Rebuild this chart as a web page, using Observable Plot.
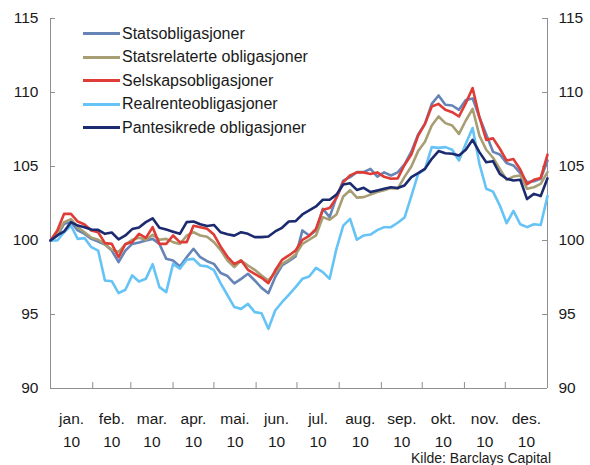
<!DOCTYPE html>
<html><head><meta charset="utf-8">
<script src="https://cdn.jsdelivr.net/npm/d3@7"></script>
<script src="https://cdn.jsdelivr.net/npm/@observablehq/plot@0.6"></script>
<style>
body{margin:0;background:#fff;}
#wrap{position:relative;width:590px;height:465px;font-family:"Liberation Sans",Arial,sans-serif;color:#1a1a1a;}
#legend{position:absolute;left:83px;top:22px;font-size:16px;}
.row{display:flex;align-items:center;height:23.5px;white-space:nowrap;}
.sw{width:37px;height:3px;margin-right:2px;}
#source{position:absolute;right:39px;top:450px;font-size:14px;line-height:16px;}
</style></head><body><div id="wrap"></div>
<script>
const seriesNames = ["Statsobligasjoner","Statsrelaterte obligasjoner","Selskapsobligasjoner","Realrenteobligasjoner","Pantesikrede obligasjoner"];
const seriesColors = ["#6685B6","#A89E74","#E03C36","#66C3F5","#1C2B6F"];
const monthLabels = ["jan.","feb.","mar.","apr.","mai.","jun.","jul.","aug.","sep.","okt.","nov.","des."];
const yearLabel = "10";
const yTicks = [90,95,100,105,110,115];
const sourceText = "Kilde: Barclays Capital";

const stats = [100,100.34,101.13,101.24,100.68,100.45,100.11,99.93,99.73,99.32,
 98.54,99.32,99.77,99.86,100.0,100.11,99.77,98.76,98.65,98.24,
 98.87,99.44,98.87,98.6,98.42,97.8,97.6,97.1,97.41,97.75,
 97.3,96.8,96.44,97.52,98.31,98.6,98.92,100.68,100.34,100.68,
 102.14,101.58,102.93,104.05,104.28,104.62,104.62,104.84,104.32,104.6,
 104.39,104.6,105.14,106.0,107.16,107.88,109.23,109.8,109.17,109.12,
 108.83,109.5,109.6,108.33,107.16,105.99,105.81,105.23,105.07,104.55,
 103.94,104.01,104.17,105.41];
const statsrel = [100,100.45,101.24,101.44,100.9,100.56,100.18,100.05,99.77,99.37,
 99.23,99.73,100.05,100.18,100.05,100.38,100.05,100.11,99.89,99.77,
 100.32,100.56,100.34,100.25,99.89,99.35,98.65,98.2,98.65,98.31,
 98.02,97.64,97.3,97.82,98.42,98.69,99.05,99.77,100.05,100.34,
 101.58,101.4,101.76,102.97,103.4,102.9,102.93,103.1,103.27,103.4,
 103.54,103.5,104.3,105.0,106.04,106.67,107.77,108.38,107.93,107.77,
 107.2,108.11,108.9,107.09,106.13,105.59,104.84,104.1,104.32,104.39,
 103.49,103.6,103.83,104.62];
const selskap = [100,100.68,101.8,101.8,101.28,101.08,100.68,100.56,99.82,99.77,
 98.87,99.77,99.89,100.45,100.18,100.9,99.77,99.77,100.34,99.89,
 99.89,101.0,100.9,100.8,100.4,99.58,98.9,98.4,98.65,98.02,
 97.75,97.48,97.12,97.97,98.69,98.99,99.32,100.05,100.32,100.79,
 102.07,102.2,102.88,103.94,104.4,104.6,104.6,104.5,104.6,104.3,
 104.17,104.2,105.1,105.8,107.09,107.88,109.05,109.23,108.83,108.67,
 108.38,109.28,110.3,108.33,106.8,106.9,106.2,105.4,105.5,104.8,
 103.8,104.1,104.23,105.8];
const realrente = [100,100.0,100.56,101.01,100.11,100.16,99.55,99.32,97.3,97.25,
 96.44,96.67,97.64,97.23,97.41,98.4,96.85,96.51,98.42,98.1,
 98.7,98.76,98.31,98.25,98.0,97.1,96.3,95.5,95.38,95.72,
 95.16,95.09,94.03,95.27,95.83,96.33,96.85,97.41,97.57,98.15,
 97.86,97.41,99.44,101.0,101.46,100.05,100.34,100.4,100.7,100.9,
 100.9,101.2,101.55,103.0,104.5,104.82,106.31,106.26,106.31,106.13,
 105.41,106.53,107.6,105.18,103.5,103.3,102.36,101.17,102.0,101.1,
 100.9,101.1,101.05,103.0];
const pantesikrede = [100,100.34,100.61,101.24,101.01,100.9,100.74,100.72,100.45,100.54,
 100.07,100.34,100.77,100.88,101.24,101.5,100.86,100.74,100.59,100.45,
 101.24,101.28,101.1,100.98,101.05,100.55,100.42,100.33,100.56,100.45,
 100.23,100.23,100.27,100.61,100.86,101.28,101.31,101.76,102.03,102.3,
 102.75,102.75,103.1,103.78,103.87,103.42,103.56,103.27,103.38,103.5,
 103.6,103.55,103.72,104.28,104.55,104.84,105.52,106.04,105.9,105.86,
 105.74,106.13,106.8,105.97,105.29,105.36,104.5,104.17,104.05,104.1,
 102.8,103.15,103.0,104.2];

const allSeries = [stats, statsrel, selskap, realrente, pantesikrede];
const start = new Date(Date.UTC(2010,0,1));
const end = new Date(Date.UTC(2011,0,1));
const stepDays = 5;
const rows = [];
allSeries.forEach((vals, s) => vals.forEach((v, i) => rows.push({date: d3.utcDay.offset(start, i*stepDays), series: seriesNames[s], value: v})));
const monthStarts = d3.utcMonth.range(start, d3.utcDay.offset(end, 1));
const monthMids = d3.utcMonth.range(start, end).map(m => new Date((+m + +d3.utcMonth.offset(m,1))/2));

const W = 590, H = 465, mL = 50, mR = 43, mT = 18, mB = 77;
const frameW = W - mL - mR, frameH = H - mT - mB;
const xTickLen = 6, yTickLen = 5;
const axisGray = "#8f8f8f";
const plot = Plot.plot({
  width: W, height: H,
  marginLeft: mL, marginRight: mR, marginTop: mT, marginBottom: mB,
  style: {fontFamily: '"Liberation Sans", Arial, sans-serif', fontSize: "15.5px", color: "#1a1a1a", background: "transparent"},
  x: {type: "utc", domain: [start, end]},
  y: {domain: [90, 115]},
  color: {domain: seriesNames, range: seriesColors},
  marks: [
    Plot.ruleY([yTicks[0]], {stroke: axisGray}),
    Plot.ruleX([start, end], {stroke: axisGray}),
    Plot.tickX(monthStarts, {x: d => d, stroke: axisGray, strokeWidth: 1, insetTop: frameH - xTickLen}),
    Plot.tickY(yTicks, {y: d => d, stroke: axisGray, strokeWidth: 1, insetRight: frameW - yTickLen}),
    Plot.tickY(yTicks, {y: d => d, stroke: axisGray, strokeWidth: 1, insetLeft: frameW - yTickLen}),
    Plot.axisX({ticks: monthMids, tickSize: 0, tickPadding: 19, lineHeight: 1.5, fill: "#1a1a1a", label: null,
      tickFormat: d => monthLabels[d.getUTCMonth()] + "\n" + yearLabel}),
    Plot.axisY({anchor: "left", ticks: yTicks, tickSize: 0, tickPadding: 12, fill: "#1a1a1a", label: null}),
    Plot.axisY({anchor: "right", ticks: yTicks, tickSize: 0, tickPadding: 11, fill: "#1a1a1a", label: null}),
    Plot.line(rows, {x: "date", y: "value", z: "series", stroke: "series", strokeWidth: 2.6, strokeLinejoin: "round"})
  ]
});
const wrap = document.getElementById("wrap");
wrap.appendChild(plot);
const legend = document.createElement("div");
legend.id = "legend";
seriesNames.forEach((n, i) => {
  const r = document.createElement("div"); r.className = "row";
  const sw = document.createElement("span"); sw.className = "sw"; sw.style.background = seriesColors[i];
  const t = document.createElement("span"); t.textContent = n;
  r.appendChild(sw); r.appendChild(t); legend.appendChild(r);
});
wrap.appendChild(legend);
const src = document.createElement("div"); src.id = "source"; src.textContent = sourceText;
wrap.appendChild(src);
</script></body></html>
